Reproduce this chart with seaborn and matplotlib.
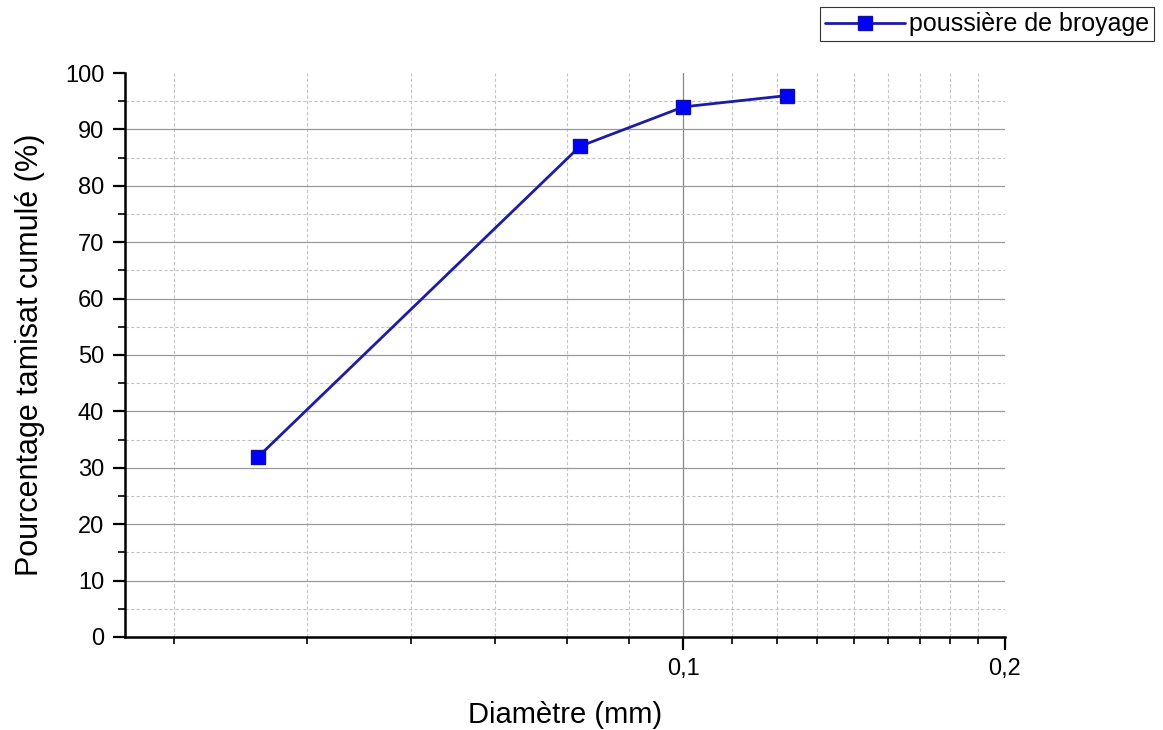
import numpy as np
import pandas as pd
import matplotlib
matplotlib.use("Agg")
import matplotlib.pyplot as plt
import seaborn as sns
from matplotlib.ticker import FixedLocator, FixedFormatter, NullFormatter

# Data
diametre = [0.04, 0.08, 0.1, 0.125]
tamisat = [32, 87, 94, 96]
serie = "poussière de broyage"

x_major = [0.1, 0.2]
x_major_labels = ["0,1", "0,2"]

sns.set_style("ticks")
plt.rcParams['font.family'] = ['Liberation Sans', 'DejaVu Sans']
plt.rcParams['text.color'] = 'black'
plt.rcParams['axes.labelcolor'] = 'black'

df = pd.DataFrame({"d": diametre, "p": tamisat, "s": serie})

fig = plt.figure(figsize=(11.63, 7.30), dpi=100)
ax = fig.add_axes([0.1075, 0.1274, 0.7566, 0.7726])

# grid first so the line sits on top
step = 0.1 / 9
x_minor = [0.1 - k * step for k in range(1, 7)] + [0.1 + k * step for k in range(1, 9)]
for xv in x_minor:
    ax.axvline(xv, color='#c4c4c4', lw=0.8, ls=(0, (3, 2)), zorder=0)
ax.axvline(0.1, color='#888888', lw=0.9, zorder=0)
for yv in range(5, 100, 10):
    ax.axhline(yv, color='#c4c4c4', lw=0.8, ls=(0, (3, 2)), zorder=0)
for yv in range(10, 100, 10):
    ax.axhline(yv, color='#999999', lw=0.9, zorder=0)

sns.lineplot(data=df, x="d", y="p", hue="s", palette=['#1c1ca8'], lw=2,
             marker='s', markersize=10, markerfacecolor='#0000ff',
             markeredgecolor='#1010a0', markeredgewidth=1, ax=ax, zorder=3,
             legend=False)

ax.set_xscale('log')
ax.set_xlim(0.03, 0.2)
ax.set_ylim(0, 100)

ax.xaxis.set_major_locator(FixedLocator(x_major))
ax.xaxis.set_major_formatter(FixedFormatter(x_major_labels))
ax.xaxis.set_minor_locator(FixedLocator(x_minor))
ax.xaxis.set_minor_formatter(NullFormatter())
ax.set_yticks(range(0, 101, 10))
ax.set_yticks(range(5, 100, 10), minor=True)

ax.tick_params(axis='both', which='major', direction='out', length=9, width=1.6,
               labelsize=17, colors='black', pad=6)
ax.tick_params(axis='both', which='minor', direction='out', length=5, width=1.4)

for side in ['top', 'right']:
    ax.spines[side].set_visible(False)
for side in ['left', 'bottom']:
    ax.spines[side].set_linewidth(1.8)
    ax.spines[side].set_color('black')

ax.set_xlabel("Diamètre (mm)", fontsize=21, labelpad=15)
ax.set_ylabel("Pourcentage tamisat cumulé (%)", fontsize=22, labelpad=14)

handle = plt.Line2D([], [], color='#1c1ca8', lw=2, marker='s', markersize=10,
                    markerfacecolor='#0000ff', markeredgecolor='#1010a0')
leg = fig.legend([handle], [serie], loc='upper right',
                 bbox_to_anchor=(0.992, 0.99), fontsize=18, frameon=True,
                 fancybox=False, edgecolor='black', handlelength=3.2,
                 borderpad=0.2, handletextpad=0.15, borderaxespad=0)
leg.get_frame().set_linewidth(0.8)

fig.savefig("out.png", dpi=100)
